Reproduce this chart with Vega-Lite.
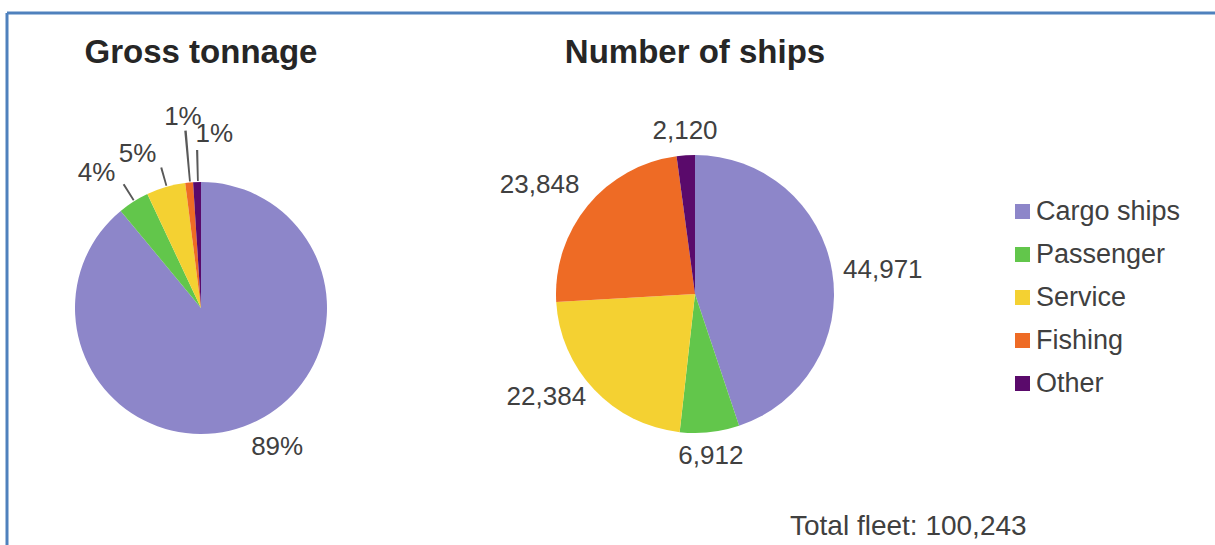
{
  "$schema": "https://vega.github.io/schema/vega-lite/v6.json",
  "width": 1208,
  "height": 532,
  "autosize": {"type": "none"},
  "padding": {"left": 7, "top": 13, "right": 0, "bottom": 0},
  "background": "white",
  "config": {
    "view": {"stroke": null},
    "font": "Liberation Sans",
    "legend": {
      "orient": "none",
      "legendX": 1002,
      "legendY": 185,
      "title": null,
      "symbolType": "square",
      "symbolSize": 225,
      "symbolStrokeWidth": 0,
      "symbolOpacity": 1,
      "labelFontSize": 27,
      "labelFont": "Liberation Sans",
      "labelColor": "#404040",
      "rowPadding": 15,
      "labelOffset": 0,
      "padding": 0,
      "labelLimit": 300
    }
  },
  "datasets": {
    "tonnage": [
      {"type": "Cargo ships", "share": 0.89},
      {"type": "Passenger", "share": 0.04},
      {"type": "Service", "share": 0.05},
      {"type": "Fishing", "share": 0.01},
      {"type": "Other", "share": 0.01}
    ],
    "ships": [
      {"type": "Cargo ships", "ships": 44971},
      {"type": "Passenger", "ships": 6912},
      {"type": "Service", "ships": 22384},
      {"type": "Fishing", "ships": 23848},
      {"type": "Other", "ships": 2120}
    ],
    "one": [{}]
  },
  "layer": [
    {
      "data": {"name": "tonnage"},
      "transform": [
        {"window": [{"op": "row_number", "as": "idx"}, {"op": "sum", "field": "share", "as": "cum"}], "frame": [null, 0]},
        {"calculate": "datum.cum - datum.share / 2", "as": "mid"},
        {"calculate": "datum.mid + 0.0022", "as": "mid2"}
      ],
      "encoding": {
        "x": {"datum": "Gross tonnage", "type": "nominal", "scale": {"type": "point", "domain": ["Gross tonnage", "Number of ships"], "range": [194, 688], "padding": 0}, "axis": null},
        "y": {"datum": "Gross tonnage", "type": "nominal", "scale": {"type": "point", "domain": ["Gross tonnage", "Number of ships"], "range": [295, 281], "padding": 0}, "axis": null}
      },
      "layer": [
        {
          "mark": {"type": "arc", "radius": 126},
          "encoding": {
            "theta": {"field": "share", "type": "quantitative", "stack": true, "scale": {"domain": [0, 1]}},
            "order": {"field": "idx", "type": "quantitative"},
            "color": {
              "field": "type", "type": "nominal",
              "scale": {"domain": ["Cargo ships", "Passenger", "Service", "Fishing", "Other"], "range": ["#8d86c9", "#62c64b", "#f4d132", "#ee6b25", "#5a0a6b"]}
            }
          }
        },
        {
          "transform": [{"filter": "datum.type !== 'Cargo ships'"}],
          "mark": {
            "type": "arc", "color": "#595959",
            "radius": {"expr": "datum.type === 'Fishing' ? 178 : (datum.type === 'Other' ? 158 : 146)"},
            "radius2": 127
          },
          "encoding": {
            "theta": {"field": "mid", "type": "quantitative", "stack": null},
            "theta2": {"field": "mid2"}
          }
        },
        {
          "mark": {
            "type": "text", "fontSize": 26, "color": "#404040", "font": "Liberation Sans",
            "align": {"expr": "datum.type === 'Cargo ships' || datum.type === 'Other' ? 'left' : (datum.type === 'Fishing' ? 'center' : 'right')"},
            "baseline": "middle",
            "radius": {"expr": "datum.type === 'Fishing' ? 192 : (datum.type === 'Other' ? 174 : (datum.type === 'Cargo ships' ? 148 : 160))"}
          },
          "encoding": {
            "theta": {"field": "mid", "type": "quantitative", "stack": null},
            "text": {"field": "share", "type": "quantitative", "format": ".0%"}
          }
        }
      ]
    },
    {
      "data": {"name": "ships"},
      "transform": [
        {"window": [{"op": "row_number", "as": "idx"}, {"op": "sum", "field": "ships", "as": "cum"}], "frame": [null, 0]},
        {"calculate": "datum.cum - datum.ships / 2", "as": "mid"}
      ],
      "encoding": {
        "x": {"datum": "Number of ships", "type": "nominal", "scale": {"type": "point", "domain": ["Gross tonnage", "Number of ships"], "range": [194, 688], "padding": 0}, "axis": null},
        "y": {"datum": "Number of ships", "type": "nominal", "scale": {"type": "point", "domain": ["Gross tonnage", "Number of ships"], "range": [295, 281], "padding": 0}, "axis": null}
      },
      "layer": [
        {
          "mark": {"type": "arc", "radius": 139},
          "encoding": {
            "theta": {"field": "ships", "type": "quantitative", "stack": true},
            "order": {"field": "idx", "type": "quantitative"},
            "color": {
              "field": "type", "type": "nominal",
              "scale": {"domain": ["Cargo ships", "Passenger", "Service", "Fishing", "Other"], "range": ["#8d86c9", "#62c64b", "#f4d132", "#ee6b25", "#5a0a6b"]}
            }
          }
        },
        {
          "mark": {
            "type": "text", "fontSize": 26, "color": "#404040", "font": "Liberation Sans",
            "align": {"expr": "datum.type === 'Cargo ships' ? 'left' : (datum.type === 'Service' || datum.type === 'Fishing' ? 'right' : 'center')"},
            "baseline": {"expr": "datum.type === 'Passenger' ? 'top' : (datum.type === 'Fishing' || datum.type === 'Other' ? 'bottom' : 'middle')"},
            "radius": 150
          },
          "encoding": {
            "theta": {"field": "mid", "type": "quantitative", "stack": null},
            "text": {"field": "ships", "type": "quantitative", "format": ","}
          }
        }
      ]
    },
    {
      "data": {"name": "one"},
      "mark": {"type": "rule", "color": "#4f81bd", "strokeWidth": 3},
      "encoding": {"x": {"value": 0}}
    },
    {
      "data": {"name": "one"},
      "mark": {"type": "rule", "color": "#4f81bd", "strokeWidth": 3},
      "encoding": {"y": {"value": 0}}
    },
    {
      "data": {"name": "one"},
      "mark": {"type": "text", "fontSize": 33, "fontWeight": "bold", "color": "#262626", "font": "Liberation Sans", "baseline": "middle"},
      "encoding": {
        "x": {"datum": "Gross tonnage", "type": "nominal"},
        "y": {"value": 40},
        "text": {"value": "Gross tonnage"}
      }
    },
    {
      "data": {"name": "one"},
      "mark": {"type": "text", "fontSize": 33, "fontWeight": "bold", "color": "#262626", "font": "Liberation Sans", "baseline": "middle"},
      "encoding": {
        "x": {"datum": "Number of ships", "type": "nominal"},
        "y": {"value": 40},
        "text": {"value": "Number of ships"}
      }
    },
    {
      "data": {"name": "one"},
      "mark": {"type": "text", "fontSize": 28, "color": "#404040", "font": "Liberation Sans", "align": "left", "baseline": "middle"},
      "encoding": {
        "x": {"value": 783},
        "y": {"value": 514},
        "text": {"value": "Total fleet: 100,243"}
      }
    }
  ],
  "resolve": {"scale": {"theta": "independent"}}
}
